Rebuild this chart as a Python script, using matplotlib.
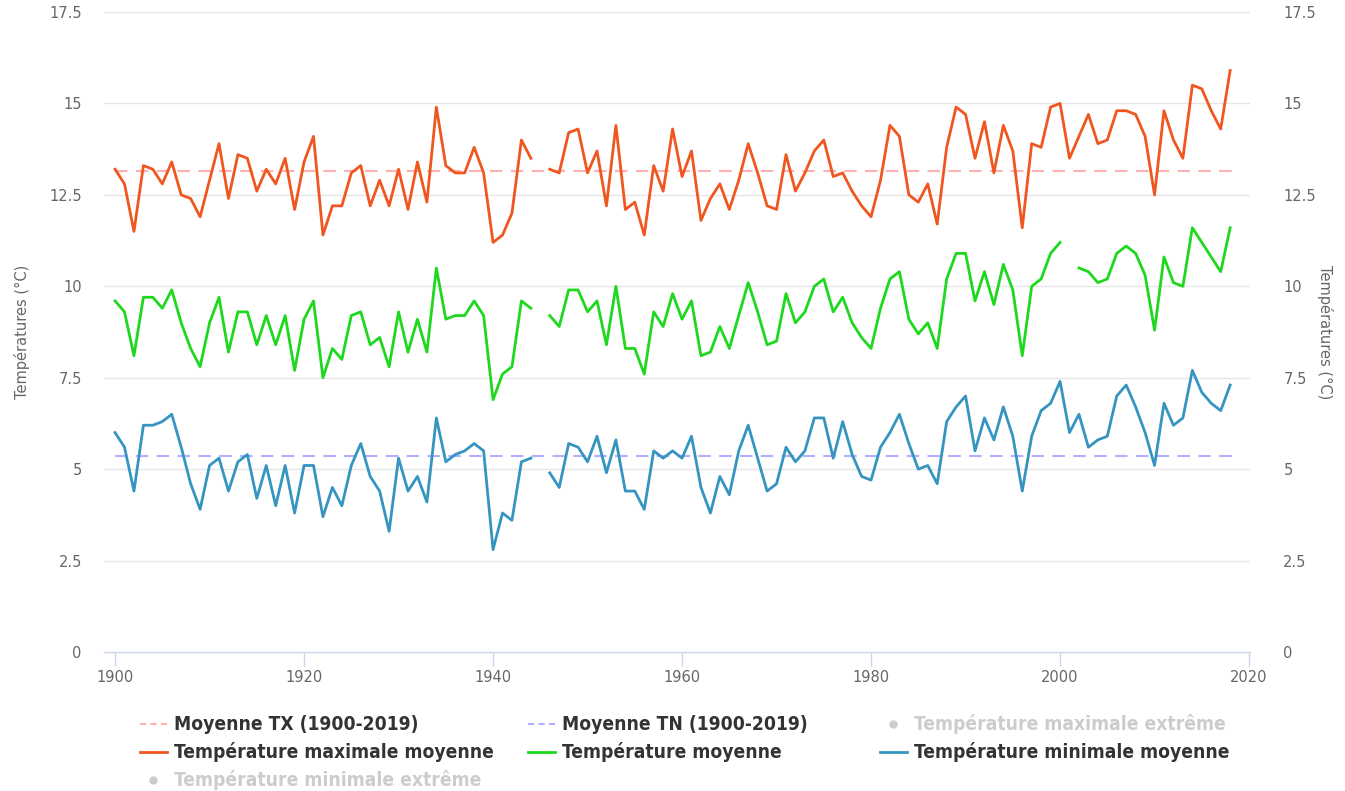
import numpy as np
import matplotlib
matplotlib.use("Agg")
import matplotlib.pyplot as plt
from matplotlib.lines import Line2D

nan = np.nan

years = list(range(1900, 2019))

# Température maximale moyenne (TX)
tx = [13.2, 12.8, 11.5, 13.3, 13.2, 12.8, 13.4, 12.5, 12.4, 11.9,
      12.9, 13.9, 12.4, 13.6, 13.5, 12.6, 13.2, 12.8, 13.5, 12.1,
      13.4, 14.1, 11.4, 12.2, 12.2, 13.1, 13.3, 12.2, 12.9, 12.2,
      13.2, 12.1, 13.4, 12.3, 14.9, 13.3, 13.1, 13.1, 13.8, 13.1,
      11.2, 11.4, 12.0, 14.0, 13.5, nan, 13.2, 13.1, 14.2, 14.3,
      13.1, 13.7, 12.2, 14.4, 12.1, 12.3, 11.4, 13.3, 12.6, 14.3,
      13.0, 13.7, 11.8, 12.4, 12.8, 12.1, 12.9, 13.9, 13.1, 12.2,
      12.1, 13.6, 12.6, 13.1, 13.7, 14.0, 13.0, 13.1, 12.6, 12.2,
      11.9, 12.9, 14.4, 14.1, 12.5, 12.3, 12.8, 11.7, 13.8, 14.9,
      14.7, 13.5, 14.5, 13.1, 14.4, 13.7, 11.6, 13.9, 13.8, 14.9,
      15.0, 13.5, 14.1, 14.7, 13.9, 14.0, 14.8, 14.8, 14.7, 14.1,
      12.5, 14.8, 14.0, 13.5, 15.5, 15.4, 14.8, 14.3, 15.9]

# Température moyenne (TM)
tm = [9.6, 9.3, 8.1, 9.7, 9.7, 9.4, 9.9, 9.0, 8.3, 7.8,
      9.0, 9.7, 8.2, 9.3, 9.3, 8.4, 9.2, 8.4, 9.2, 7.7,
      9.1, 9.6, 7.5, 8.3, 8.0, 9.2, 9.3, 8.4, 8.6, 7.8,
      9.3, 8.2, 9.1, 8.2, 10.5, 9.1, 9.2, 9.2, 9.6, 9.2,
      6.9, 7.6, 7.8, 9.6, 9.4, nan, 9.2, 8.9, 9.9, 9.9,
      9.3, 9.6, 8.4, 10.0, 8.3, 8.3, 7.6, 9.3, 8.9, 9.8,
      9.1, 9.6, 8.1, 8.2, 8.9, 8.3, 9.2, 10.1, 9.3, 8.4,
      8.5, 9.8, 9.0, 9.3, 10.0, 10.2, 9.3, 9.7, 9.0, 8.6,
      8.3, 9.4, 10.2, 10.4, 9.1, 8.7, 9.0, 8.3, 10.2, 10.9,
      10.9, 9.6, 10.4, 9.5, 10.6, 9.9, 8.1, 10.0, 10.2, 10.9,
      11.2, nan, 10.5, 10.4, 10.1, 10.2, 10.9, 11.1, 10.9, 10.3,
      8.8, 10.8, 10.1, 10.0, 11.6, 11.2, 10.8, 10.4, 11.6]

# Température minimale moyenne (TN)
tn = [6.0, 5.6, 4.4, 6.2, 6.2, 6.3, 6.5, 5.6, 4.6, 3.9,
      5.1, 5.3, 4.4, 5.2, 5.4, 4.2, 5.1, 4.0, 5.1, 3.8,
      5.1, 5.1, 3.7, 4.5, 4.0, 5.1, 5.7, 4.8, 4.4, 3.3,
      5.3, 4.4, 4.8, 4.1, 6.4, 5.2, 5.4, 5.5, 5.7, 5.5,
      2.8, 3.8, 3.6, 5.2, 5.3, nan, 4.9, 4.5, 5.7, 5.6,
      5.2, 5.9, 4.9, 5.8, 4.4, 4.4, 3.9, 5.5, 5.3, 5.5,
      5.3, 5.9, 4.5, 3.8, 4.8, 4.3, 5.5, 6.2, 5.3, 4.4,
      4.6, 5.6, 5.2, 5.5, 6.4, 6.4, 5.3, 6.3, 5.4, 4.8,
      4.7, 5.6, 6.0, 6.5, 5.7, 5.0, 5.1, 4.6, 6.3, 6.7,
      7.0, 5.5, 6.4, 5.8, 6.7, 5.9, 4.4, 5.9, 6.6, 6.8,
      7.4, 6.0, 6.5, 5.6, 5.8, 5.9, 7.0, 7.3, 6.7, 6.0,
      5.1, 6.8, 6.2, 6.4, 7.7, 7.1, 6.8, 6.6, 7.3]

mean_years = [1900, 2019]
mean_tx = 13.15
mean_tn = 5.35

yticks = [0, 2.5, 5, 7.5, 10, 12.5, 15, 17.5]
ytick_labels = ["0", "2.5", "5", "7.5", "10", "12.5", "15", "17.5"]
xticks = [1900, 1920, 1940, 1960, 1980, 2000, 2020]

c_tx = "#f0561f"
c_tm = "#1ed81e"
c_tn = "#3595c0"
c_txm = "#ffb0b0"
c_tnm = "#b0b0ff"
label_col = "#666666"

plt.rcParams["font.family"] = ["DejaVu Sans"]

fig = plt.figure(figsize=(13.45, 7.91), dpi=100)
ax = fig.add_axes([104 / 1345, 1 - 652 / 791, (1250 - 104) / 1345, (652 - 12) / 791])

ax.plot(mean_years, [mean_tx] * 2, color=c_txm, lw=1.5, dashes=(6, 4), zorder=2)
ax.plot(mean_years, [mean_tn] * 2, color=c_tnm, lw=1.5, dashes=(6, 4), zorder=2)
ax.plot(years, tx, color=c_tx, lw=2.0, zorder=3, solid_joinstyle="round")
ax.plot(years, tm, color=c_tm, lw=2.0, zorder=3, solid_joinstyle="round")
ax.plot(years, tn, color=c_tn, lw=2.0, zorder=3, solid_joinstyle="round")

ax.set_xlim(1898.83, 2020.1)
ax.set_ylim(0, 17.5)
ax.set_yticks(yticks)
ax.set_yticklabels(ytick_labels)
ax.set_xticks(xticks)
for v in yticks[1:]:
    ax.axhline(v, color="#e6e6e6", lw=1, zorder=1)

for s in ["top", "left", "right"]:
    ax.spines[s].set_visible(False)
ax.spines["bottom"].set_color("#ccd6eb")
ax.spines["bottom"].set_linewidth(1)
ax.tick_params(axis="x", colors="#ccd6eb", length=10, width=1, labelcolor=label_col,
               labelsize=10.5, pad=3)
ax.tick_params(axis="y", length=0, labelcolor=label_col, labelsize=10.5, pad=16)
ax.set_ylabel("Températures (°C)", color=label_col, fontsize=10.5, labelpad=14)

ax2 = ax.twinx()
ax2.set_ylim(0, 17.5)
ax2.set_yticks(yticks)
ax2.set_yticklabels(ytick_labels)
for s in ["top", "left", "right", "bottom"]:
    ax2.spines[s].set_visible(False)
ax2.tick_params(axis="y", length=0, labelcolor=label_col, labelsize=10.5, pad=24)
ax2.set_ylabel("Températures (°C)", color=label_col, fontsize=10.5, rotation=270,
               labelpad=12)

# legend, laid out like the original
entries = [
    ("Moyenne TX (1900-2019)", c_txm, "dash", True, 140, 724),
    ("Moyenne TN (1900-2019)", c_tnm, "dash", True, 528, 724),
    ("Température maximale extrême", "#cccccc", "dot", False, 880, 724),
    ("Température maximale moyenne", c_tx, "line", True, 140, 752),
    ("Température moyenne", c_tm, "line", True, 528, 752),
    ("Température minimale moyenne", c_tn, "line", True, 880, 752),
    ("Température minimale extrême", "#cccccc", "dot", False, 140, 780),
]
W, H = 1345, 791
for text, col, kind, active, px, py in entries:
    y = 1 - py / H
    if kind == "dot":
        fig.add_artist(Line2D([(px + 13) / W], [y], marker="o", ms=5, color=col,
                              linestyle="none", transform=fig.transFigure))
    else:
        fig.add_artist(Line2D([px / W, (px + 27) / W], [y, y], color=col,
                              lw=2.0 if kind == "line" else 1.5,
                              dashes=(3, 2) if kind == "dash" else (None, None),
                              transform=fig.transFigure))
    fig.text((px + 34) / W, y, text, fontsize=13.8, fontweight="bold",
             color="#333333" if active else "#cccccc", va="center", ha="left",
             fontstretch="condensed")

fig.savefig("out.png", dpi=100)
